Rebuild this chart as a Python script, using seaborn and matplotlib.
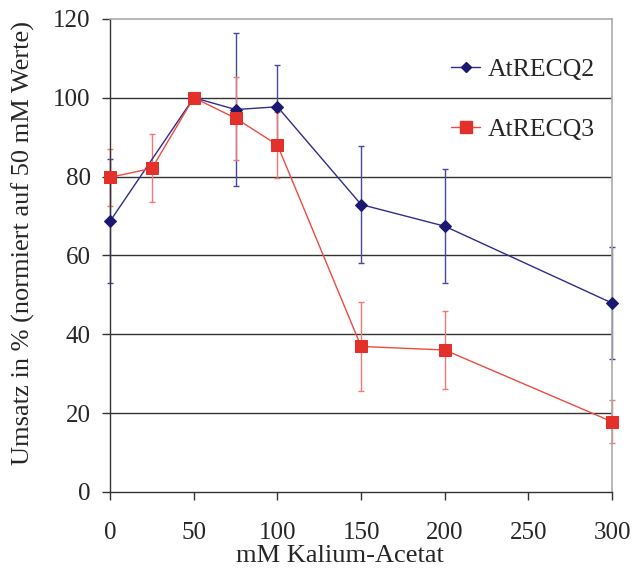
import matplotlib
matplotlib.use("Agg")
import matplotlib.pyplot as plt
from matplotlib.lines import Line2D
import pandas as pd
import seaborn as sns

# Data
conc_q2 = [0, 50, 75, 100, 150, 200, 300]
val_q2 = [68.7, 100, 97.0, 97.7, 72.9, 67.4, 47.9]
err_q2 = [15.7, 0, 19.5, 10.5, 14.8, 14.5, 14.3]

conc_q3 = [0, 25, 50, 75, 100, 150, 200, 300]
val_q3 = [79.8, 82.1, 100, 94.8, 88.0, 36.9, 36.0, 17.8]
err_q3 = [7.3, 8.6, 0, 10.5, 8.3, 11.3, 9.8, 5.5]

x_ticks = [0, 50, 100, 150, 200, 250, 300]
y_ticks = [0, 20, 40, 60, 80, 100, 120]

df_q2 = pd.DataFrame({"conc": conc_q2, "value": val_q2, "err": err_q2, "enzyme": "AtRECQ2"})
df_q3 = pd.DataFrame({"conc": conc_q3, "value": val_q3, "err": err_q3, "enzyme": "AtRECQ3"})
df = pd.concat([df_q2, df_q3], ignore_index=True)

sns.set_style("white")
plt.rcParams['font.family'] = ['Liberation Serif', 'DejaVu Serif']

navy = "#1c1870"
navy_line = "#2f2c8c"
red = "#e2302b"
red_line = "#ef4a40"

fig, ax = plt.subplots(figsize=(6.33, 5.72), dpi=100)
fig.subplots_adjust(left=0.174, right=0.967, top=0.967, bottom=0.14)

# horizontal gridlines
for y in y_ticks[1:-1]:
    ax.axhline(y, color="#333333", linewidth=1.0, zorder=0)

# error bars
ax.errorbar(df_q2["conc"], df_q2["value"], yerr=df_q2["err"], fmt="none",
            ecolor="#4a47a0", elinewidth=1.0, capsize=2.5, capthick=1.0, zorder=2, clip_on=False)
ax.errorbar(df_q3["conc"], df_q3["value"], yerr=df_q3["err"], fmt="none",
            ecolor="#f07a72", elinewidth=1.0, capsize=2.5, capthick=1.0, zorder=2, clip_on=False)

sns.lineplot(data=df, x="conc", y="value", hue="enzyme", style="enzyme",
             markers={"AtRECQ2": "D", "AtRECQ3": "s"}, dashes=False,
             palette={"AtRECQ2": navy_line, "AtRECQ3": red_line},
             linewidth=1.0, ax=ax, zorder=3, legend=False)

# marker colours/sizes
for line, mc, ms in zip(ax.lines[-2:], [navy, red], [6.5, 9]):
    line.set_markerfacecolor(mc)
    line.set_markeredgecolor(mc)
    line.set_markersize(ms)
    line.set_clip_on(False)

ax.set_xlim(0, 300)
ax.set_ylim(0, 120)
ax.set_xticks(x_ticks)
ax.set_yticks(y_ticks)
ax.tick_params(axis="both", labelsize=18, direction="out", length=6, width=1.0,
               color="#333333", bottom=True, left=True)
ax.tick_params(axis="x", pad=16)
ax.tick_params(axis="y", pad=8)

for side in ["left", "bottom"]:
    ax.spines[side].set_color("#333333")
    ax.spines[side].set_linewidth(1.0)
for side in ["top", "right"]:
    ax.spines[side].set_color("#aaaaaa")
    ax.spines[side].set_linewidth(1.2)

ax.set_xlabel("mM Kalium-Acetat", fontsize=19)
ax.set_ylabel("Umsatz in % (normiert auf 50 mM Werte)", fontsize=19)
ax.xaxis.set_label_coords(0.458, -0.112)
ax.yaxis.set_label_coords(-0.149, 0.526)

handles = [
    Line2D([], [], color=navy_line, marker="D", markersize=5.5, markerfacecolor=navy,
           markeredgecolor=navy, linewidth=1.0),
    Line2D([], [], color=red_line, marker="s", markersize=8, markerfacecolor=red,
           markeredgecolor=red, linewidth=1.0),
]
ax.legend(handles, ["AtRECQ2", "AtRECQ3"], loc="center right", bbox_to_anchor=(0.965, 0.83),
          frameon=False, fontsize=18.5, labelspacing=1.45, handlelength=1.1,
          handletextpad=0.3, borderpad=0, borderaxespad=0)

fig.savefig("out.png", dpi=100)
